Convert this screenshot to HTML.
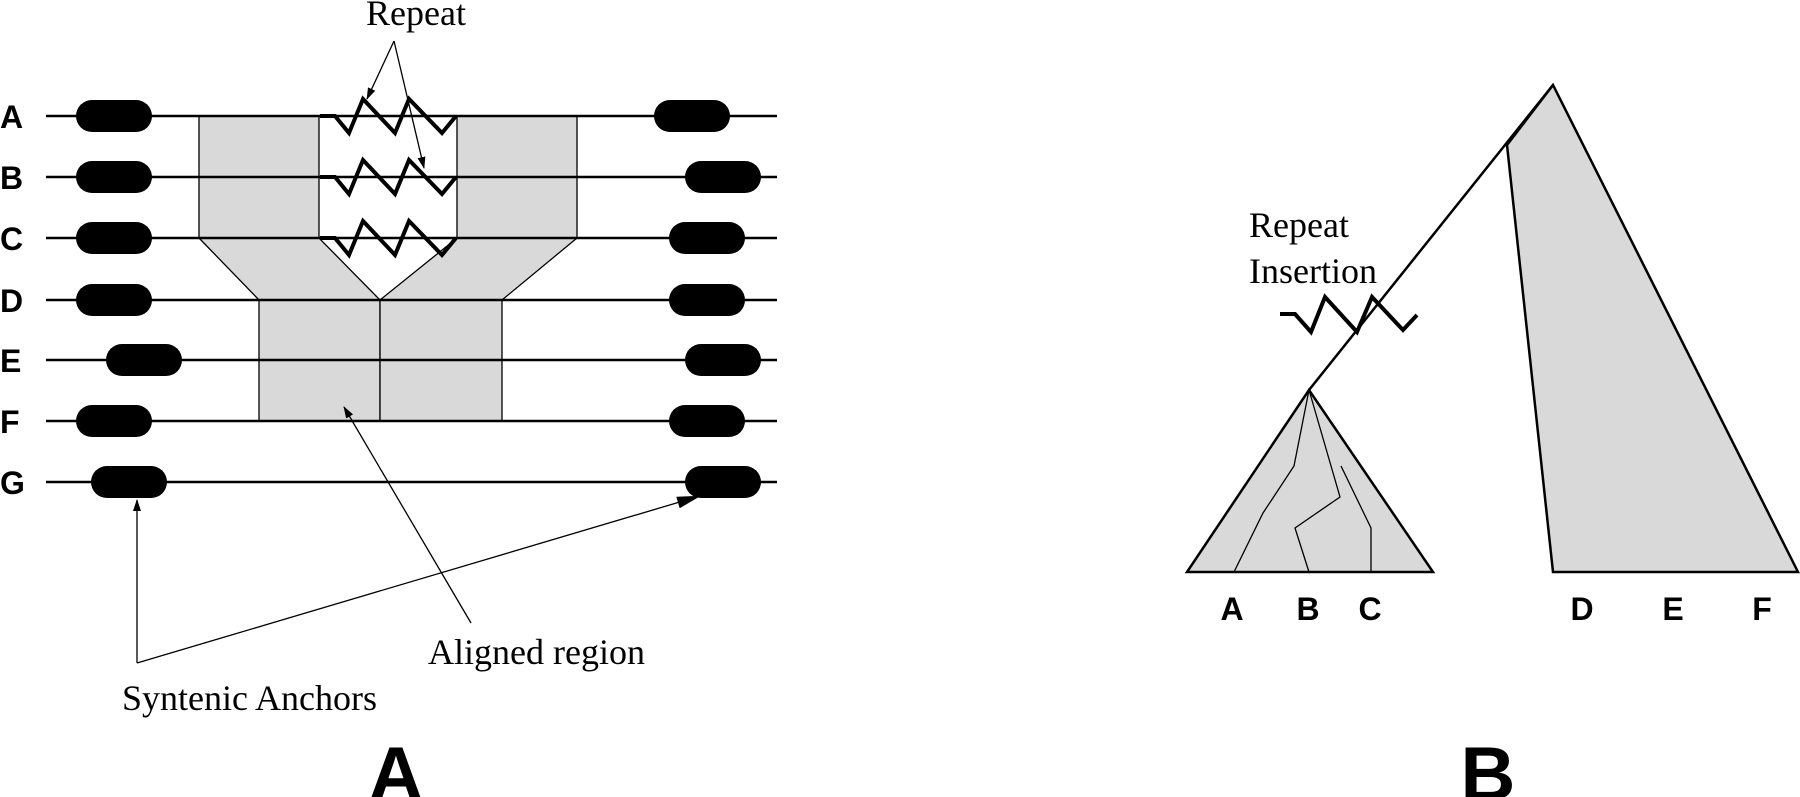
<!DOCTYPE html>
<html><head><meta charset="utf-8"><style>html,body{margin:0;padding:0;background:#fff}svg{display:block}</style></head>
<body>
<svg width="1800" height="797" viewBox="0 0 1800 797" xmlns="http://www.w3.org/2000/svg">
<defs><marker id="ah" markerWidth="12" markerHeight="8" refX="11" refY="4" orient="auto" markerUnits="userSpaceOnUse"><path d="M0,0 L12,4 L0,8 z" fill="#000"/></marker>
<marker id="ah2" markerWidth="24" markerHeight="12" refX="23" refY="6" orient="auto" markerUnits="userSpaceOnUse"><path d="M0,0 L24,6 L0,12 z" fill="#000"/></marker></defs>
<g fill="#d9d9d9" stroke="#000" stroke-width="1.3">
<rect x="199" y="116" width="120" height="122"/>
<rect x="457" y="116" width="120" height="122"/>
<polygon points="199,238 319,238 380,300 259,300"/>
<polygon points="457,238 577,238 502,300 380,300"/>
<rect x="259" y="300" width="121" height="121"/>
<rect x="380" y="300" width="122" height="121"/>
</g>
<g stroke="#000" stroke-width="2.5">
<line x1="46" y1="116" x2="777" y2="116"/><line x1="46" y1="177" x2="777" y2="177"/><line x1="46" y1="238" x2="777" y2="238"/><line x1="46" y1="300" x2="777" y2="300"/><line x1="46" y1="360" x2="777" y2="360"/><line x1="46" y1="421" x2="777" y2="421"/><line x1="46" y1="482" x2="777" y2="482"/>
</g>
<g fill="#000">
<rect x="76" y="100" width="76" height="32" rx="16"/><rect x="76" y="161" width="76" height="32" rx="16"/><rect x="76" y="222" width="76" height="32" rx="16"/><rect x="76" y="284" width="76" height="32" rx="16"/><rect x="106" y="344" width="76" height="32" rx="16"/><rect x="76" y="405" width="76" height="32" rx="16"/><rect x="91" y="466" width="76" height="32" rx="16"/>
<rect x="654" y="100" width="76" height="32" rx="16"/><rect x="685" y="161" width="76" height="32" rx="16"/><rect x="669" y="222" width="76" height="32" rx="16"/><rect x="669" y="284" width="76" height="32" rx="16"/><rect x="685" y="344" width="76" height="32" rx="16"/><rect x="669" y="405" width="76" height="32" rx="16"/><rect x="685" y="466" width="76" height="32" rx="16"/>
</g>
<g fill="none" stroke="#000" stroke-width="4" stroke-linejoin="miter">
<polyline points="320,116 335,116 349,133 363,99 395,133 409,99 442,133 456,116"/>
<polyline points="320,177 335,177 349,194 363,160 395,194 409,160 442,194 456,177"/>
<polyline points="320,238 335,238 349,255 363,221 395,255 409,221 442,255 456,238"/>
</g>
<g stroke="#000" stroke-width="1.3" fill="none">
<line x1="394" y1="41" x2="367" y2="99" marker-end="url(#ah)"/>
<line x1="394" y1="41" x2="424" y2="168" marker-end="url(#ah)"/>
<line x1="471" y1="623" x2="344" y2="407" marker-end="url(#ah)"/>
<polyline points="137,663 137,500" marker-end="url(#ah)"/>
<line x1="137" y1="663" x2="700" y2="496" marker-end="url(#ah2)"/>
</g>
<g font-family="Liberation Sans, sans-serif" font-weight="bold" font-size="32">
<text x="0" y="128">A</text><text x="0" y="189">B</text><text x="0" y="250">C</text><text x="0" y="312">D</text><text x="0" y="372">E</text><text x="0" y="433">F</text><text x="0" y="494">G</text>
</g>
<g font-family="Liberation Serif, serif" font-size="36">
<text x="366" y="25">Repeat</text>
<text x="428" y="664">Aligned region</text>
<text x="122" y="710">Syntenic Anchors</text>
<text x="1249" y="237">Repeat</text>
<text x="1249" y="283">Insertion</text>
</g>
<text x="396" y="800" font-family="Liberation Sans, sans-serif" font-weight="bold" font-size="76" text-anchor="middle">A</text>
<text x="1488" y="800" font-family="Liberation Sans, sans-serif" font-weight="bold" font-size="76" text-anchor="middle">B</text>
<g stroke="#000" stroke-width="2.5" fill="#d9d9d9">
<polygon points="1507,145 1553,572 1798,572 1553,85"/>
<polygon points="1309,390 1187,572 1433,572"/>
</g>
<line x1="1553" y1="85" x2="1309" y2="390" stroke="#000" stroke-width="2.5"/>
<g stroke="#000" stroke-width="1.3" fill="none">
<polyline points="1309,390 1294,466 1263,513 1234,572"/>
<polyline points="1309,390 1340,497 1295,528 1309,572"/>
<polyline points="1341,466 1371,528 1371,572"/>
</g>
<polyline points="1280,314 1295,314 1311,332 1325,297 1357,332 1372,297 1403,330 1417,315" fill="none" stroke="#000" stroke-width="4"/>
<g font-family="Liberation Sans, sans-serif" font-weight="bold" font-size="32" text-anchor="middle">
<text x="1232" y="620">A</text><text x="1308" y="620">B</text><text x="1370" y="620">C</text><text x="1582" y="620">D</text><text x="1673" y="620">E</text><text x="1762" y="620">F</text>
</g>
</svg>
</body></html>
